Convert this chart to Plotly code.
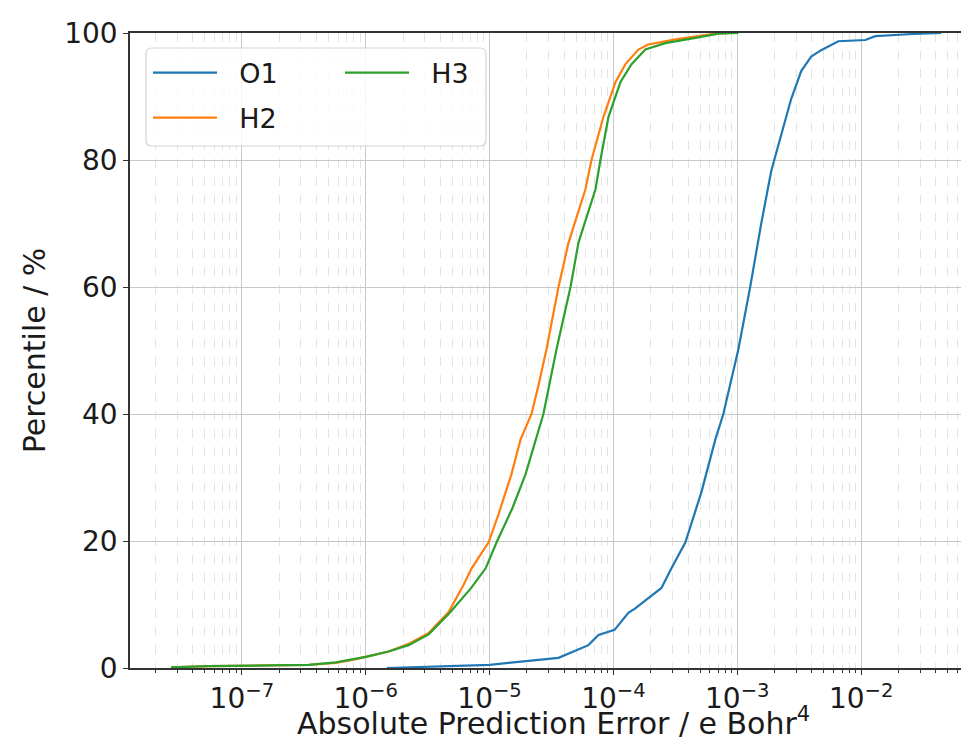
import plotly.graph_objects as go

# ---- data (absolute error, cumulative percentile) ----
o1_err = [1.48e-6, 3.22e-6, 1.0e-5, 1.42e-5, 2.48e-5, 3.60e-5, 6.28e-5, 7.57e-5, 1.02e-4,
          1.32e-4, 1.50e-4, 1.91e-4, 2.44e-4, 2.94e-4, 3.81e-4, 5.13e-4, 6.65e-4, 7.71e-4,
          1.02e-3, 1.27e-3, 1.56e-3, 1.88e-3, 2.26e-3, 2.72e-3, 3.28e-3, 3.95e-3, 4.75e-3,
          6.53e-3, 1.08e-2, 1.30e-2, 2.39e-2, 4.42e-2]
o1_pct = [0.0, 0.2, 0.5, 0.8, 1.3, 1.6, 3.6, 5.2, 6.0,
          8.7, 9.4, 11.0, 12.6, 15.7, 19.8, 27.7, 36.0, 40.0,
          50.2, 60.0, 70.0, 78.3, 84.0, 89.6, 94.0, 96.3, 97.3,
          98.7, 98.9, 99.5, 99.8, 100.0]

h2_err = [2.68e-8, 5.42e-8, 1.65e-7, 3.47e-7, 5.73e-7, 8.0e-7, 1.02e-6, 1.53e-6, 2.22e-6,
          3.22e-6, 4.67e-6, 6.17e-6, 7.16e-6, 9.82e-6, 1.18e-5, 1.50e-5, 1.78e-5, 2.18e-5,
          2.48e-5, 2.88e-5, 3.60e-5, 4.34e-5, 5.94e-5, 6.65e-5, 8.30e-5, 1.04e-4, 1.25e-4,
          1.59e-4, 1.91e-4, 3.16e-4, 6.65e-4, 8.45e-4]
h2_pct = [0.1, 0.3, 0.4, 0.5, 0.8, 1.3, 1.8, 2.6, 3.8,
          5.5, 8.8, 13.1, 15.7, 19.8, 24.2, 30.5, 36.0, 40.0,
          44.5, 50.2, 60.0, 67.0, 75.4, 80.0, 86.8, 92.3, 95.1,
          97.4, 98.2, 99.0, 99.9, 100.0]

h3_err = [2.68e-8, 5.42e-8, 1.65e-7, 3.47e-7, 5.73e-7, 8.0e-7, 1.02e-6, 1.53e-6, 2.22e-6,
          3.22e-6, 4.67e-6, 7.03e-6, 9.29e-6, 1.14e-5, 1.53e-5, 1.95e-5, 2.72e-5, 3.47e-5,
          4.50e-5, 5.22e-5, 7.16e-5, 7.85e-5, 9.12e-5, 1.14e-4, 1.40e-4, 1.81e-4, 2.62e-4,
          4.84e-4, 7.03e-4, 1.02e-3]
h3_pct = [0.1, 0.3, 0.4, 0.5, 0.9, 1.4, 1.8, 2.6, 3.6,
          5.3, 8.5, 12.5, 15.7, 19.8, 25.2, 30.5, 40.0, 50.2,
          60.0, 67.0, 75.4, 80.0, 86.8, 92.3, 95.1, 97.4, 98.4,
          99.3, 99.9, 100.0]

series_names = ["O1", "H2", "H3"]
x_tickvals = [1e-7, 1e-6, 1e-5, 1e-4, 1e-3, 1e-2]
x_ticktext = ["10<sup>\u22127</sup>", "10<sup>\u22126</sup>", "10<sup>\u22125</sup>",
              "10<sup>\u22124</sup>", "10<sup>\u22123</sup>", "10<sup>\u22122</sup>"]
y_tickvals = [0, 20, 40, 60, 80, 100]

FONT = "DejaVu Sans"
W, H = 969, 742
L, R, T, B = 122, 0, 25, 82
PW, PH = W - L - R, H - T - B
GAP = "\u00a0\u00a0"  # extra space between legend handle and label (matplotlib look)


def px(xp):
    return (xp - L) / PW


def py(yp):
    return (H - B - yp) / PH


fig = go.Figure()
fig.add_trace(go.Scatter(x=o1_err, y=o1_pct, mode="lines", name=GAP + series_names[0],
                         line=dict(color="#1f77b4", width=2.2), legend="legend"))
fig.add_trace(go.Scatter(x=h2_err, y=h2_pct, mode="lines", name=GAP + series_names[1],
                         line=dict(color="#ff7f0e", width=2.2), legend="legend2"))
fig.add_trace(go.Scatter(x=h3_err, y=h3_pct, mode="lines", name=GAP + series_names[2],
                         line=dict(color="#2ca02c", width=2.2), legend="legend3"))


def leg(xp, yp):
    return dict(x=px(xp), y=py(yp), xanchor="left", yanchor="middle",
                orientation="v", itemwidth=64,
                bgcolor="rgba(0,0,0,0)", borderwidth=0,
                font=dict(family=FONT, size=27, color="#1a1a1a"))


# rounded legend frame (matplotlib style)
bx0, by0, bx1, by1, rr = 138, 40, 478, 138, 6
rx, ry = rr / PW, rr / PH
X0, X1, Y0, Y1 = px(bx0), px(bx1), py(by1), py(by0)
frame = (f"M{X0 + rx},{Y1} L{X1 - rx},{Y1} Q{X1},{Y1} {X1},{Y1 - ry} "
         f"L{X1},{Y0 + ry} Q{X1},{Y0} {X1 - rx},{Y0} L{X0 + rx},{Y0} "
         f"Q{X0},{Y0} {X0},{Y0 + ry} L{X0},{Y1 - ry} Q{X0},{Y1} {X0 + rx},{Y1} Z")

fig.update_layout(
    width=W, height=H,
    margin=dict(l=L, r=R, t=T, b=B, autoexpand=False),
    plot_bgcolor="white", paper_bgcolor="white",
    font=dict(family=FONT, size=28, color="#1a1a1a"),
    showlegend=True,
    legend=leg(140, 65),
    legend2=leg(140, 110),
    legend3=leg(332, 65),
    shapes=[dict(type="path", path=frame, xref="paper", yref="paper", layer="above",
                 fillcolor="rgba(255,255,255,0.8)", line=dict(color="#d3d3d3", width=1.2))],
    annotations=[dict(text="Absolute Prediction Error / e Bohr<sup>4</sup>",
                      xref="paper", yref="paper", x=0.5, y=py(713),
                      xanchor="center", yanchor="middle", showarrow=False,
                      font=dict(family=FONT, size=30, color="#1a1a1a"))],
    xaxis=dict(
        type="log", range=[-7.903, -1.065], automargin=False,
        tickvals=x_tickvals, ticktext=x_ticktext,
        ticks="outside", ticklen=5, tickwidth=1.2, tickcolor="#333",
        showline=True, linecolor="#333", linewidth=1.5, mirror=True,
        showgrid=True, gridcolor="#c8c8c8", gridwidth=1,
        zeroline=False,
        tickfont=dict(family=FONT, size=28),
        minor=dict(dtick="D1", ticks="outside", ticklen=3.5, tickwidth=1, tickcolor="#333",
                   showgrid=True, gridcolor="#e3e3e3", gridwidth=1, griddash="dash"),
    ),
    yaxis=dict(
        range=[0, 100], tickvals=y_tickvals, automargin=False,
        ticks="outside", ticklen=5, tickwidth=1.2, tickcolor="#333",
        showline=True, linecolor="#333", linewidth=1.5,
        showgrid=True, gridcolor="#c8c8c8", gridwidth=1,
        zeroline=False,
        tickfont=dict(family=FONT, size=28),
        title=dict(text="Percentile / %", standoff=10, font=dict(family=FONT, size=30)),
    ),
)

fig.write_html("out.html")
